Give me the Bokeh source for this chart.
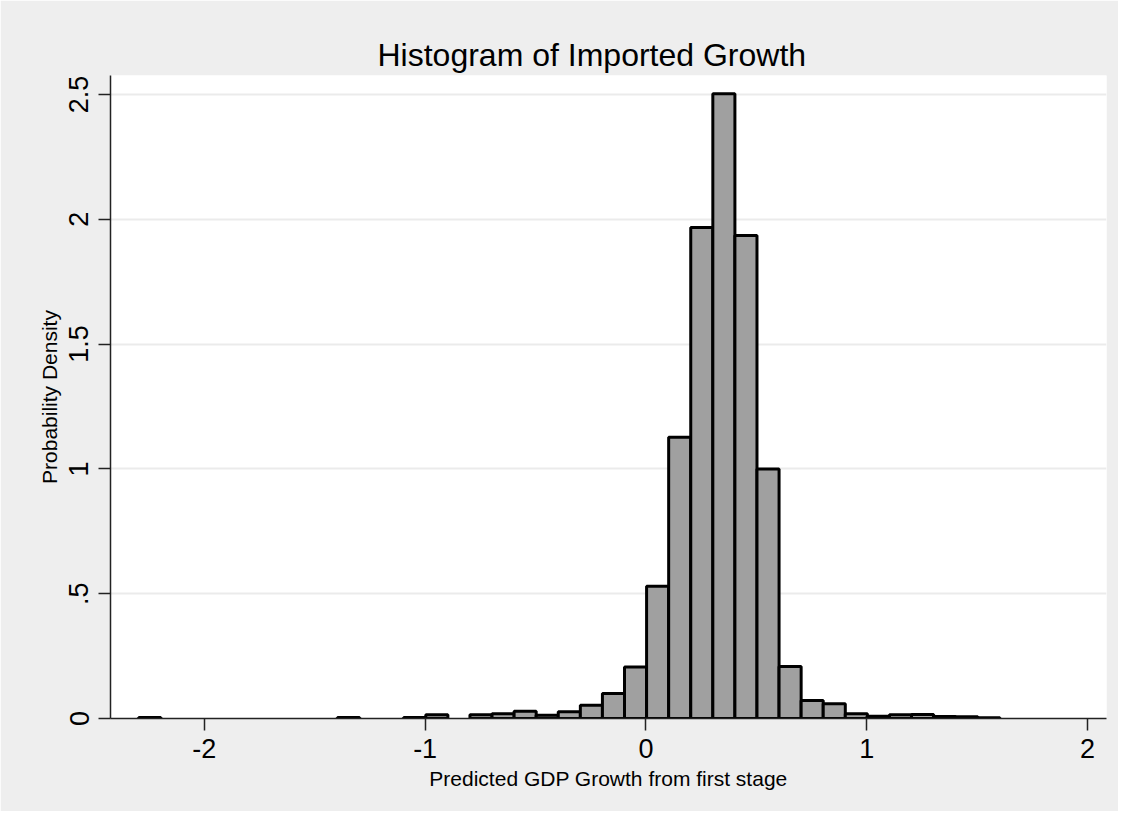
from bokeh.plotting import figure
from bokeh.models import FixedTicker, Range1d
from bokeh.embed import file_html
from bokeh.resources import INLINE

# Histogram bins (left edges) with nonzero density; bin width 0.1
bin_left = [-2.297, -1.397, -1.097, -0.997, -0.797, -0.697, -0.597, -0.497,
            -0.397, -0.297, -0.197, -0.097, 0.003, 0.103, 0.203, 0.303,
            0.403, 0.503, 0.603, 0.703, 0.803, 0.903, 1.003, 1.103,
            1.203, 1.303, 1.403, 1.503]
density = [0.004, 0.004, 0.004, 0.015, 0.015, 0.019, 0.029, 0.013,
           0.027, 0.053, 0.100, 0.206, 0.530, 1.127, 1.967, 2.503,
           1.935, 1.000, 0.208, 0.072, 0.059, 0.019, 0.009, 0.015,
           0.016, 0.008, 0.007, 0.003]
bin_width = 0.1
bin_right = [b + bin_width for b in bin_left]

x_ticks = [-2, -1, 0, 1, 2]
x_tick_labels = ["-2", "-1", "0", "1", "2"]
y_ticks = [0, 0.5, 1, 1.5, 2, 2.5]
y_tick_labels = ["0", ".5", "1", "1.5", "2", "2.5"]

FONT = "Liberation Sans"

p = figure(width=1118, height=811, output_backend="svg", toolbar_location=None,
           x_range=Range1d(-2.425, 2.086), y_range=Range1d(0, 2.576),
           min_border_left=110, min_border_right=12, min_border_top=75,
           min_border_bottom=93)

p.background_fill_color = "white"
p.border_fill_color = "#EEEEEE"
p.outline_line_color = None

p.title.text = "Histogram of Imported Growth"
p.title.text_font = FONT
p.title.text_font_size = "32px"
p.title.text_font_style = "normal"
p.title.text_color = "black"
p.title.align = "left"
p.title.offset = 267
p.title.standoff = 6

p.quad(left=bin_left, right=bin_right, top=density, bottom=0,
       fill_color="#A0A0A0", line_color="black", line_width=3)

# x axis
xa = p.xaxis[0]
xa.ticker = FixedTicker(ticks=x_ticks)
xa.major_label_overrides = {t: l for t, l in zip(x_ticks, x_tick_labels)}
xa.axis_label = "Predicted GDP Growth from first stage"
xa.axis_label_text_font = FONT
xa.axis_label_text_font_size = "21px"
xa.axis_label_text_font_style = "normal"
xa.axis_label_text_color = "black"
xa.axis_label_standoff = 6
xa.major_label_text_font = FONT
xa.major_label_text_font_size = "27px"
xa.major_label_text_color = "black"
xa.major_label_standoff = 8
xa.major_tick_out = 12
xa.major_tick_in = 0
xa.minor_tick_out = 0
xa.minor_tick_in = 0
xa.axis_line_color = "#222222"
xa.axis_line_width = 1.5
xa.major_tick_line_color = "#222222"
xa.major_tick_line_width = 1.5

# y axis
ya = p.yaxis[0]
ya.ticker = FixedTicker(ticks=y_ticks)
ya.major_label_overrides = {t: l for t, l in zip(y_ticks, y_tick_labels)}
ya.major_label_orientation = "vertical"
ya.axis_label = "Probability Density"
ya.axis_label_text_font = FONT
ya.axis_label_text_font_size = "21px"
ya.axis_label_text_font_style = "normal"
ya.axis_label_text_color = "black"
ya.axis_label_standoff = 6
ya.major_label_text_font = FONT
ya.major_label_text_font_size = "27px"
ya.major_label_text_color = "black"
ya.major_label_standoff = 10
ya.major_tick_out = 12
ya.major_tick_in = 0
ya.minor_tick_out = 0
ya.minor_tick_in = 0
ya.axis_line_color = "#222222"
ya.axis_line_width = 1.5
ya.major_tick_line_color = "#222222"
ya.major_tick_line_width = 1.5

p.xgrid.grid_line_color = None
p.ygrid.grid_line_color = "#EBEBEB"
p.ygrid.grid_line_width = 2

open("out.html", "w").write(file_html(p, INLINE))
